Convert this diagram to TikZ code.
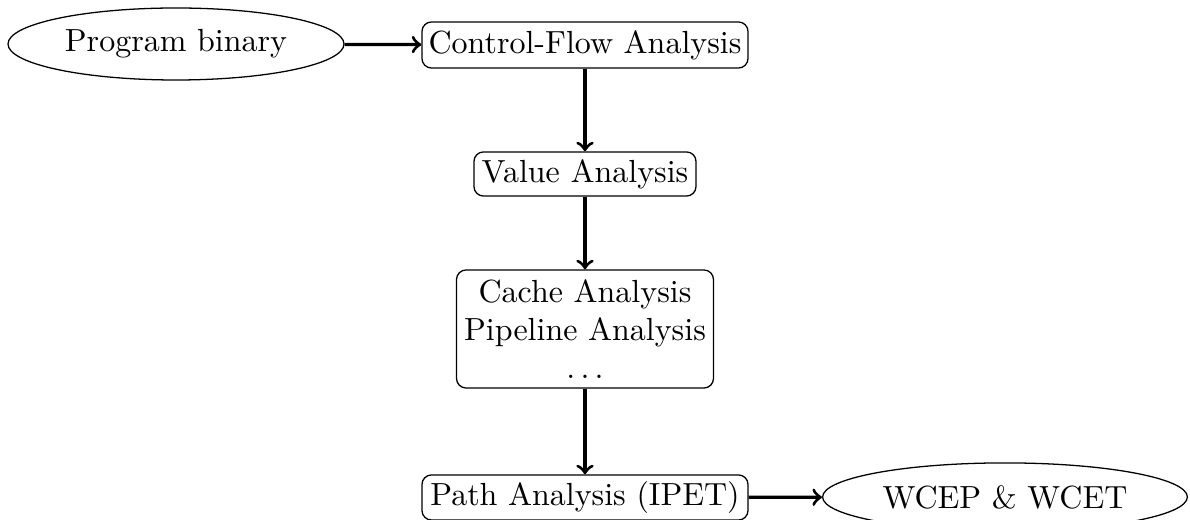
\documentclass[tikz,border=0pt]{standalone}
\usetikzlibrary{shapes.geometric}
\begin{document}
\begin{tikzpicture}[x=0.3125pt,y=-0.3125pt,
  box/.style={draw, rounded corners=3pt, inner sep=2pt, align=center},
  oval/.style={draw, ellipse, inner sep=0pt},
  flow/.style={->, line width=1pt}]
\useasboundingbox (0,0) rectangle (1190,520);
\node[oval, minimum width=105pt, minimum height=22.5pt] (prog) at (176,44) {Program binary};
\node[box, minimum width=101.9pt, minimum height=14.4pt] (cfa) at (585,45) {Control-Flow Analysis};
\node[box, minimum width=69.4pt, minimum height=13.8pt] (val) at (585,174) {Value Analysis};
\node[box, minimum width=80.3pt, minimum height=36.9pt] (cache) at (585,329) {Cache Analysis\\Pipeline Analysis\\$\ldots$};
\node[box, minimum width=101.9pt, minimum height=14.1pt] (path) at (585,497.5) {Path Analysis (IPET)};
\node[oval, minimum width=114pt, minimum height=21.3pt] (wcet) at (1005,497) {WCEP \& WCET};
\draw[flow] (prog) -- (cfa);
\draw[flow] (cfa) -- (val);
\draw[flow] (val) -- (cache);
\draw[flow] (cache) -- (path);
\draw[flow] (path) -- (wcet);
\end{tikzpicture}
\end{document}
